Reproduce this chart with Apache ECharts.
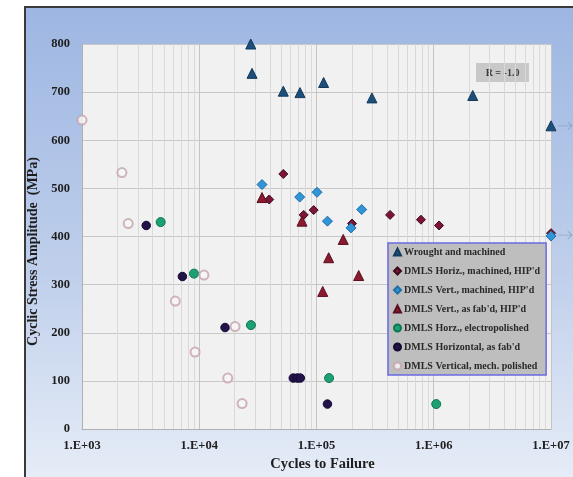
<!DOCTYPE html>
<html>
<head>
<meta charset="utf-8">
<script src="https://cdn.jsdelivr.net/npm/echarts@6/dist/echarts.min.js"></script>
<style>
html,body{margin:0;padding:0;background:#fff;}
#c{width:573px;height:477px;}
</style>
</head>
<body>
<div id="c"></div>
<script>
// ---- data: [cycles to failure, stress amplitude MPa]
const wrought = [[27500,800],[28200,739],[52100,702],[72300,699],[115000,720],[297000,688],[2150000,693],[10000000,630]];
const horizMachHip = [[52100,530],[39500,477],[77800,445],[94600,455],[201000,427],[424000,445],[778000,435],[1110000,423],[10000000,407]];
const vertMachHip = [[34300,508],[71900,482],[101000,492],[124000,432],[243000,456],[197000,418],[10000000,401]];
const vertFabHip = [[34300,481],[75200,432],[169000,394],[127000,356],[229000,319],[113000,286]];
const horzElectro = [[4690,430],[9020,323],[27600,216],[128000,106],[1050000,52]];
const horizFab = [[3530,423],[7180,317],[16600,211],[63400,106],[68500,106],[72800,106],[124000,52]];
const vertMechPol = [[1000,642],[2190,533],[2480,427],[10960,320],[6250,266],[20200,213],[9210,160],[17500,106],[23200,53]];
const runouts = [[10000000,630],[10000000,403]];
const seriesNames = ['Wrought and machined','DMLS Horiz., machined, HIP\'d','DMLS Vert., machined, HIP\'d','DMLS Vert., as fab\'d, HIP\'d','DMLS Horz., electropolished','DMLS Horizontal, as fab\'d','DMLS Vertical, mech. polished'];
const yTicks = {min:0, max:800, interval:100};
const xRange = {min:1000, max:10000000};
const minorDecades = [1000,10000,100000,1000000];
const minorMultipliers = [2,3,4,5,6,7,8,9];

const minorLines = [];
minorDecades.forEach(d => minorMultipliers.forEach(m => minorLines.push({xAxis: d*m})));

const serif = '"Liberation Serif","DejaVu Serif",serif';
const chart = echarts.init(document.getElementById('c'));

function sc(name, data, symbol, size, color, border, extra) {
  return Object.assign({
    name: name, type: 'scatter', data: data, symbol: symbol, symbolSize: size, clip: false,
    itemStyle: {color: color, borderColor: border, borderWidth: 1, opacity: 1},
    z: 3
  }, extra || {});
}

chart.setOption({
  animation: false,
  backgroundColor: '#ffffff',
  graphic: [
    {type:'rect', z:-10, shape:{x:25,y:7,width:560,height:480},
     style:{fill:new echarts.graphic.LinearGradient(0,0,0,1,[{offset:0,color:'#9db6e2'},{offset:0.55,color:'#bfcfeb'},{offset:1,color:'#e8eef8'}]), stroke:'#3a3a3a', lineWidth:2}},
    {type:'group', left:476, top:63, z:20, children:[
      {type:'rect', shape:{x:0,y:0,width:53,height:19}, style:{fill:'#c8c8c8'}},
      {type:'text', x:26.5, y:10, style:{text:'R = -1.0', font:'bold 10px '+serif, fill:'#3a3a3a', align:'center', verticalAlign:'middle'}}
    ]}
  ],
  grid: {left:82, right:22, top:44, bottom:47, show:true, backgroundColor:'#f1f1f1', borderWidth:0},
  legend: {
    orient:'vertical', left:388, top:243, data: seriesNames,
    backgroundColor:'#bebebe', borderColor:'#6b6be0', borderWidth:1.5,
    padding:[4,6,4,5], itemGap:9, itemWidth:7, itemHeight:7,
    textStyle:{fontFamily:serif, fontWeight:'bold', fontSize:10, color:'#2a2a2a', padding:[0,0,0,-2]}
  },
  xAxis: {
    type:'log', logBase:10, min:xRange.min, max:xRange.max,
    axisLine:{show:true, onZero:false, lineStyle:{color:'#b0b0b0'}},
    axisTick:{show:false},
    splitLine:{show:true, lineStyle:{color:'#c4c4c4', width:1}},
    axisLabel:{fontFamily:serif, fontWeight:'bold', fontSize:12.5, color:'#1e1e1e', margin:10,
      formatter: v => { const e = Math.round(Math.log10(v)); return '1.E+' + (e<10?'0':'') + e; }},
    name:'Cycles to Failure', nameLocation:'middle', nameGap:27,
    nameTextStyle:{fontFamily:serif, fontWeight:'bold', fontSize:14.5, color:'#1e1e1e', padding:[0,0,0,12]}
  },
  yAxis: {
    type:'value', min:yTicks.min, max:yTicks.max, interval:yTicks.interval,
    axisLine:{show:true, lineStyle:{color:'#b0b0b0'}},
    axisTick:{show:false},
    splitLine:{show:true, lineStyle:{color:'#c8c8c8', width:1}},
    axisLabel:{fontFamily:serif, fontWeight:'bold', fontSize:12.5, color:'#1e1e1e', margin:12},
    name:'Cyclic Stress Amplitude  (MPa)', nameLocation:'middle', nameGap:39,
    nameTextStyle:{fontFamily:serif, fontWeight:'bold', fontSize:14, color:'#1e1e1e', padding:[0,30,0,0]}
  },
  series: [
    sc(seriesNames[0], wrought, 'triangle', 10, '#1d4f7a', '#123a5c', {
      markLine:{silent:true, symbol:'none', animation:false, label:{show:false},
        lineStyle:{color:'#d9d9d9', width:1, type:'solid'}, data:minorLines, z:1}
    }),
    sc(seriesNames[1], horizMachHip, 'diamond', 9, '#7d1636', '#3d0a1c'),
    sc(seriesNames[2], vertMachHip, 'diamond', 10, '#2f95d6', '#1f6fa8'),
    sc(seriesNames[3], vertFabHip, 'triangle', 10, '#8a1a30', '#5a0f1e'),
    sc(seriesNames[4], horzElectro, 'circle', 9, '#1ca272', '#0f7550'),
    sc(seriesNames[5], horizFab, 'circle', 8.5, '#221448', '#140a30'),
    sc(seriesNames[6], vertMechPol, 'circle', 9, '#ffffff', '#c6a2ac', {itemStyle:{color:'#f8f8f8', borderColor:'#c6a2ac', borderWidth:2}}),
    {type:'scatter', name:'runout', data:runouts, clip:false, silent:true, z:2,
     symbol:'path://M0,5 L13,5 M9,1 L13,5 L9,9', symbolSize:[14,8], symbolOffset:[14,0], symbolKeepAspect:false,
     itemStyle:{color:'none', borderColor:'#8c9ec0', borderWidth:1}}
  ]
});
</script>
</body>
</html>
